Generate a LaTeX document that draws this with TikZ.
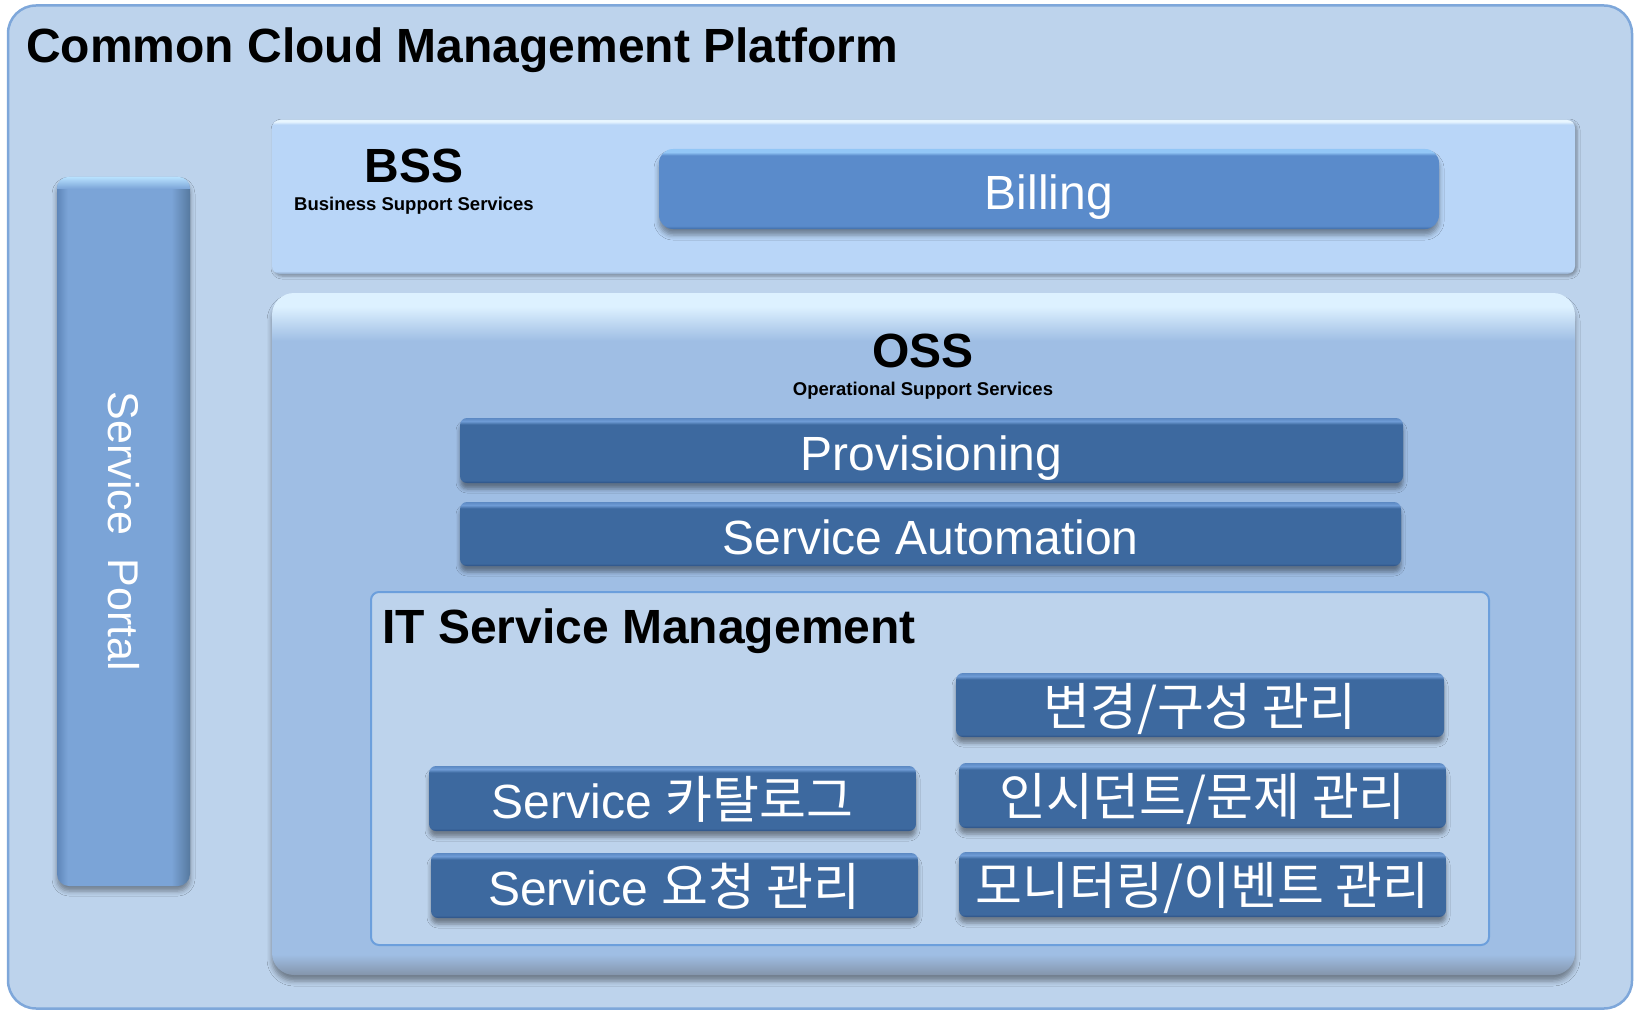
\documentclass[tikz,border=0pt]{standalone}
\usepackage{fontspec}
\setmainfont{Liberation Sans}
\newfontfamily\kr{Noto Sans CJK KR}
\usetikzlibrary{shadows.blur}

\definecolor{outerfill}{HTML}{BDD3EC}
\definecolor{outerline}{HTML}{7EA7DA}
\definecolor{bssfill}{HTML}{B9D6F8}
\definecolor{bsshi}{HTML}{E8F6FF}
\definecolor{bsslo}{HTML}{8EA6C4}
\definecolor{ossfill}{HTML}{9FBEE4}
\definecolor{osshi}{HTML}{DDF1FF}
\definecolor{osslo}{HTML}{8495AB}
\definecolor{itsmline}{HTML}{6C9FDC}
\definecolor{btndark}{HTML}{3D699F}
\definecolor{btnbot}{HTML}{2D5083}
\definecolor{btnhi}{HTML}{6F9CD6}
\definecolor{btnhitwo}{HTML}{5C89C3}
\definecolor{billfill}{HTML}{5A8BCB}
\definecolor{billbot}{HTML}{3F6DA8}
\definecolor{billhi}{HTML}{92C6F6}
\definecolor{portl}{HTML}{5E86B9}
\definecolor{portm}{HTML}{7BA4D7}
\definecolor{portr}{HTML}{56799F}
\definecolor{porthi}{HTML}{B8E2FF}

\pgfdeclareverticalshading{darkbtn}{100bp}{color(0bp)=(btnbot); color(25bp)=(btnbot); color(27bp)=(btndark); color(70bp)=(btndark); color(72.5bp)=(btnhi); color(75bp)=(btnhitwo); color(100bp)=(btnhitwo)}
\pgfdeclareverticalshading{billbtn}{100bp}{color(0bp)=(billbot); color(25bp)=(billbot); color(27bp)=(billfill); color(71bp)=(billfill); color(73bp)=(billhi); color(75bp)=(billhi); color(100bp)=(billhi)}
\pgfdeclareverticalshading{bssshade}{100bp}{color(0bp)=(bsslo); color(25bp)=(bsslo); color(26bp)=(bssfill); color(73.5bp)=(bssfill); color(74.5bp)=(bsshi); color(100bp)=(bsshi)}
\pgfdeclareverticalshading{ossshade}{100bp}{color(0bp)=(osslo); color(25bp)=(osslo); color(26.5bp)=(ossfill); color(71.5bp)=(ossfill); color(74bp)=(osshi); color(75bp)=(osshi); color(100bp)=(osshi)}
\pgfdeclarehorizontalshading{portshade}{100bp}{color(0bp)=(portl); color(25bp)=(portl); color(29bp)=(portm); color(68bp)=(portm); color(75bp)=(portr); color(100bp)=(portr)}

\newcommand\titlefont{\fontsize{48}{52}\selectfont\bfseries}
\newcommand\subfont{\fontsize{18.5}{20}\selectfont\bfseries}
\newcommand\btnfont{\fontsize{48}{52}\selectfont}
\newcommand\krfont{\fontsize{51}{54}\selectfont\kr}

\begin{document}
\begin{tikzpicture}[x=1pt,y=-1pt,
  outerbox/.style={rectangle, rounded corners=28pt, fill=outerfill, draw=outerline, line width=2.5pt},
  bssbox/.style={rectangle, rounded corners=8pt, shading=bssshade, blur shadow={shadow xshift=2pt, shadow yshift=-2pt, shadow blur radius=3pt, shadow opacity=35}},
  ossbox/.style={rectangle, rounded corners=22pt, shading=ossshade, blur shadow={shadow xshift=0pt, shadow yshift=-6pt, shadow blur radius=5pt, shadow opacity=40}},
  itsmbox/.style={rectangle, rounded corners=8pt, fill=outerfill, draw=itsmline, line width=2pt},
  btn/.style={rectangle, rounded corners=7pt, shading=darkbtn, text=white, inner sep=0pt, font=\btnfont, text height=40pt, text depth=0pt, blur shadow={shadow xshift=0pt, shadow yshift=-6pt, shadow blur radius=4pt, shadow opacity=40}},
  billstyle/.style={rectangle, rounded corners=14pt, shading=billbtn, text=white, inner sep=0pt, font=\btnfont, text height=40pt, text depth=0pt, blur shadow={shadow xshift=0pt, shadow yshift=-6pt, shadow blur radius=5pt, shadow opacity=40}},
  portalstyle/.style={rectangle, rounded corners=12pt, shading=portshade, inner sep=0pt, blur shadow={shadow xshift=0pt, shadow yshift=-5pt, shadow blur radius=5pt, shadow opacity=40}},
  head/.style={inner sep=0pt, font=\titlefont},
  sub/.style={inner sep=0pt, font=\subfont}
]
\useasboundingbox (0,0) rectangle (1635,1011);

% outer platform
\node[outerbox, minimum width=1624pt, minimum height=1003pt] (outer) at (820,507) {};
\node[head, anchor=base west] (title) at (26,63) {Common Cloud Management Platform};

% service portal
\node[portalstyle, minimum width=133pt, minimum height=709pt] (portal) at (123.5,531.5) {};
\begin{scope}
  \clip[rounded corners=12pt] (portal.north west) rectangle (portal.south east);
  \shade[top color=porthi, bottom color=portm] (portal.north west) rectangle ([yshift=-12pt]portal.north east);
\end{scope}
\node[text=white, font=\fontsize{43}{46}\selectfont, rotate=-90, inner sep=0pt] (portaltext) at (portal.center) {Service\ \ Portal};

% BSS
\node[bssbox, minimum width=1303pt, minimum height=154pt] (bss) at (923.5,197) {};
\node[head, anchor=base] (bsstitle) at (414,183) {BSS};
\node[sub, anchor=base] (bsssub) at (414,211) {Business Support Services};
\node[billstyle, minimum width=780pt, minimum height=80pt] (billing) at (1049,189) {Billing};

% OSS
\node[ossbox, minimum width=1303pt, minimum height=682pt] (oss) at (923.5,634) {};
\node[head, anchor=base] (osstitle) at (923,367) {OSS};
\node[sub, anchor=base] (osssub) at (923,395) {Operational Support Services};
\node[btn, minimum width=943pt, minimum height=65pt] (prov) at (931.5,450.5) {Provisioning};
\node[btn, minimum width=941pt, minimum height=64pt] (auto) at (930.5,534) {Service Automation};

% ITSM
\node[itsmbox, minimum width=1118pt, minimum height=353pt] (itsm) at (930,768.5) {};
\node[head, anchor=base west] (itsmtitle) at (382,643) {IT Service Management};
\node[btn, minimum width=488pt, minimum height=64pt] (change) at (1200,705) {{\krfont 변경/구성 관리}};
\node[btn, minimum width=487pt, minimum height=65pt] (incident) at (1202.5,795.5) {{\krfont 인시던트/문제 관리}};
\node[btn, minimum width=487pt, minimum height=65pt] (monitor) at (1202.5,884.5) {{\krfont 모니터링/이벤트 관리}};
\node[btn, minimum width=487pt, minimum height=65pt] (catalog) at (672.5,798.5) {Service {\krfont 카탈로그}};
\node[btn, minimum width=487pt, minimum height=65pt] (request) at (674.5,885.5) {Service {\krfont 요청 관리}};
\end{tikzpicture}
\end{document}
